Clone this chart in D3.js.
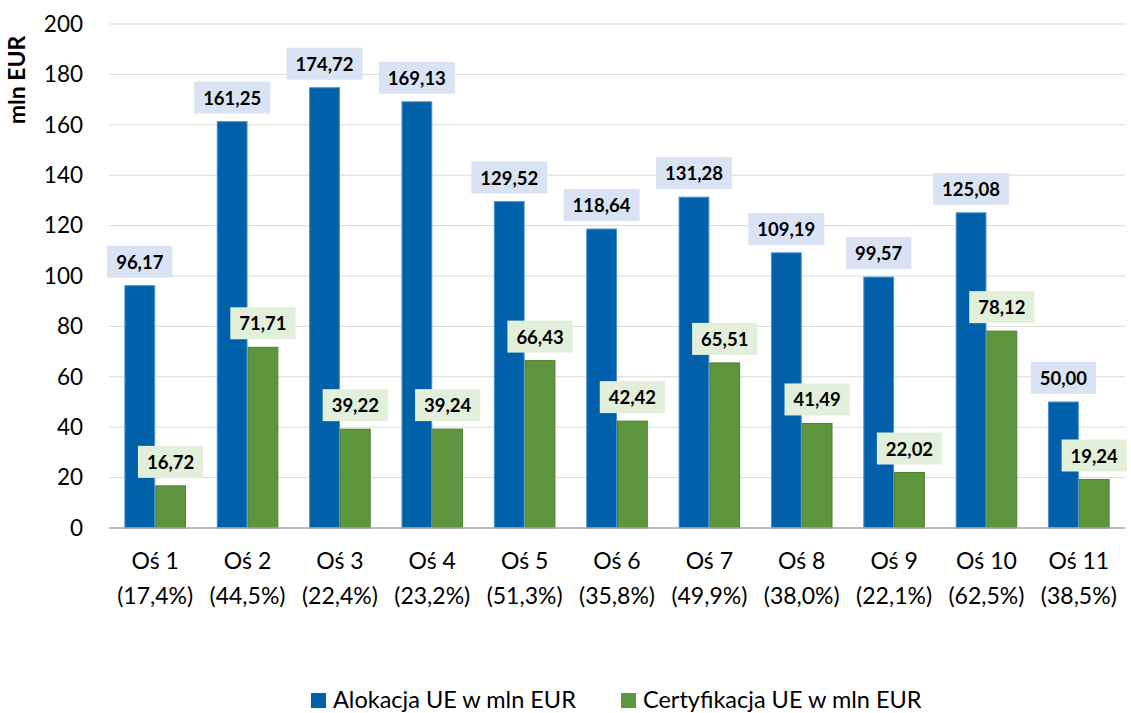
<!DOCTYPE html>
<html lang="pl">
<head>
<meta charset="UTF-8">
<title>Alokacja i certyfikacja UE</title>
<script src="https://d3js.org/d3.v7.min.js"></script>
<style>
  body { margin: 0; background: #fff; }
  text { font-family: Lato, "Open Sans", sans-serif; fill: #000; }
</style>
</head>
<body>
<div id="chart"></div>
<script>
// data
var categories = ["Oś 1","Oś 2","Oś 3","Oś 4","Oś 5","Oś 6","Oś 7","Oś 8","Oś 9","Oś 10","Oś 11"];
var shares = ["(17,4%)","(44,5%)","(22,4%)","(23,2%)","(51,3%)","(35,8%)","(49,9%)","(38,0%)","(22,1%)","(62,5%)","(38,5%)"];
var alokacja = [96.17, 161.25, 174.72, 169.13, 129.52, 118.64, 131.28, 109.19, 99.57, 125.08, 50.00];
var certyfikacja = [16.72, 71.71, 39.22, 39.24, 66.43, 42.42, 65.51, 41.49, 22.02, 78.12, 19.24];
var seriesNames = ["Alokacja UE w mln EUR", "Certyfikacja UE w mln EUR"];
var yTicks = [0, 20, 40, 60, 80, 100, 120, 140, 160, 180, 200];

var W = 1131, H = 713;
var margin = {top: 24, right: 6, bottom: 185, left: 109};
var width = W - margin.left - margin.right,
    height = H - margin.top - margin.bottom;

var colors = ["#0061AA", "#5D963E"];
var strokes = ["#4A90D0", "#4E7F33"];
var boxFill = ["#DAE3F3", "#E2EFDA"];

var svg = d3.select("#chart").append("svg")
    .attr("width", W).attr("height", H);
var g = svg.append("g")
    .attr("transform", "translate(" + margin.left + "," + margin.top + ")");

var x = d3.scaleBand().domain(categories).range([0, width]).padding(0);
var xs = d3.scaleBand().domain([0, 1]).range([0, x.bandwidth()]).paddingInner(0).paddingOuter(0.5);
var y = d3.scaleLinear().domain([0, 200]).range([height, 0]);

// gridlines
g.append("g").selectAll("line").data(yTicks.slice(1)).enter().append("line")
    .attr("x1", 0).attr("x2", width)
    .attr("y1", function(d){ return y(d); }).attr("y2", function(d){ return y(d); })
    .attr("stroke", "#D9D9D9").attr("stroke-width", 1);

// y axis labels
var yAxis = g.append("g").call(d3.axisLeft(y).tickValues(yTicks).tickSize(0).tickPadding(26));
yAxis.select(".domain").remove();
yAxis.selectAll("text").style("font-size", "22.5px").style("font-family", "Lato, sans-serif").attr("fill", "#000");

// y axis title
svg.append("text")
    .attr("transform", "translate(25,80) rotate(-90)")
    .attr("text-anchor", "middle")
    .style("font-size", "23px").style("font-weight", "bold")
    .text("mln EUR");

var rows = categories.map(function(c, i){ return {cat: c, vals: [alokacja[i], certyfikacja[i]]}; });

var groups = g.selectAll(".grp").data(rows).enter().append("g")
    .attr("transform", function(d){ return "translate(" + x(d.cat) + ",0)"; });

groups.selectAll("rect").data(function(d){ return d.vals.map(function(v, k){ return {v: v, k: k}; }); })
  .enter().append("rect")
    .attr("x", function(d){ return xs(d.k) + 0.5; })
    .attr("width", xs.bandwidth() - 1)
    .attr("y", function(d){ return y(d.v); })
    .attr("height", function(d){ return height - y(d.v); })
    .attr("fill", function(d){ return colors[d.k]; })
    .attr("stroke", function(d){ return strokes[d.k]; })
    .attr("stroke-width", 1);

// baseline
g.append("line").attr("x1", 0).attr("x2", width)
    .attr("y1", height).attr("y2", height)
    .attr("stroke", "#A6A6A6").attr("stroke-width", 1.5);

// value labels
groups.each(function(d){
  var grp = d3.select(this);
  d.vals.forEach(function(v, k){
    var cx = xs(k) + xs.bandwidth() / 2;
    var lg = grp.append("g");
    var t = lg.append("text")
        .attr("x", cx).attr("y", y(v) - 17)
        .attr("text-anchor", "middle")
        .style("font-size", "18.5px").style("font-weight", "bold")
        .text(v.toFixed(2).replace(".", ","));
    var tw = t.node().getComputedTextLength() + 18;
    lg.insert("rect", "text")
        .attr("x", cx - tw / 2).attr("y", y(v) - 40)
        .attr("width", tw).attr("height", 32)
        .attr("fill", boxFill[k]);
  });
});

// x labels
var xl = g.append("g").selectAll("text").data(categories).enter().append("text")
    .attr("text-anchor", "middle")
    .attr("x", function(d){ return x(d) + x.bandwidth() / 2; })
    .attr("y", height + 41)
    .style("font-size", "23px");
xl.append("tspan").text(function(d){ return d; });
xl.append("tspan")
    .attr("x", function(d){ return x(d) + x.bandwidth() / 2; })
    .attr("dy", 35)
    .text(function(d, i){ return shares[i]; });

// legend
var lx = [311, 621];
seriesNames.forEach(function(n, k){
  var it = svg.append("g").attr("transform", "translate(" + lx[k] + ",693)");
  it.append("rect").attr("width", 15).attr("height", 15).attr("fill", colors[k]);
  it.append("text").attr("x", 22).attr("y", 15).style("font-size", "23.5px").text(n);
});
</script>
</body>
</html>
